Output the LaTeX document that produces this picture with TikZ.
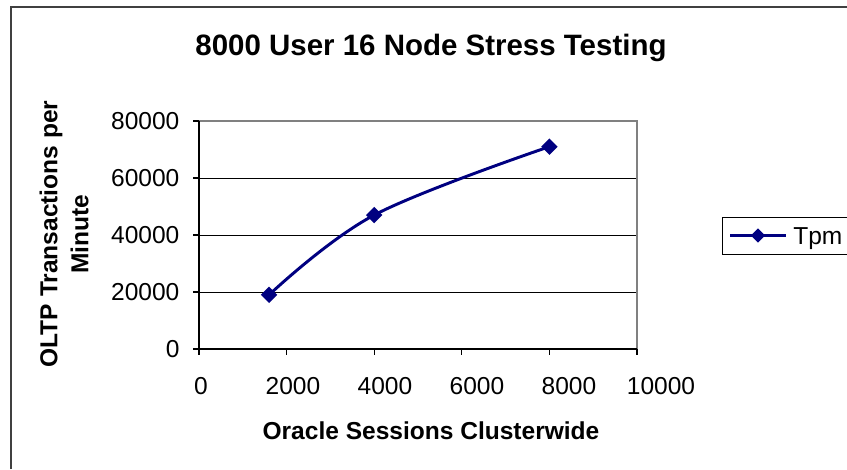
\documentclass[tikz,border=0pt]{standalone}
\usepackage{fontspec}
\setmainfont{Liberation Sans}
\usetikzlibrary{shapes.geometric}
\definecolor{tpmblue}{RGB}{0,0,128}
\tikzset{
  lbl/.style={font=\fontsize{18.4}{22}\selectfont, inner sep=0pt},
  axtitle/.style={font=\fontsize{18.4}{23.25}\selectfont\bfseries, inner sep=0pt},
  datamark/.style={diamond, fill=tpmblue, inner sep=0pt, minimum size=12.5pt},
  gridline/.style={black, line width=0.6pt}
}

\begin{document}
\begin{tikzpicture}[x=0.75pt,y=-0.75pt]
\useasboundingbox (0,0) rectangle (847,469);
\draw [line width=1.5pt,black!75] (10.5,469) -- (10.5,6.5) -- (847,6.5);
\node [inner sep=0pt,anchor=base,font=\fontsize{22.1}{26}\selectfont\bfseries] (title) at (431,55) {8000 User 16 Node Stress Testing};

\begin{scope}[shift={(199,349)},x=32.85pt,y=21.375pt]
\coordinate (p1) at (1.6,1.9);
\coordinate (p2) at (4,4.7);
\coordinate (p3) at (8,7.1);
\foreach \y in {2,4,6} \draw [gridline] (0,\y) -- (10,\y);
\draw [line width=1.5pt,gray] (0,8) -- (10,8) -- (10,0);
\draw [line width=1.1pt] (0,8) -- (0,0) -- (10,0);
\foreach \x/\t in {0/0,2/2000,4/4000,6/6000,8/8000,10/10000} {
  \draw [line width=0.8pt] (\x,0) -- ++(0pt,-4.5pt);
  \node [lbl] (xl\x) at (\x,0) [xshift={(1.5+1.65*\x)*1pt},yshift=-27.75pt] {\t};
}
\foreach \y/\t in {0/0,2/20000,4/40000,6/60000,8/80000} {
  \draw [line width=0.8pt] (0,\y) -- ++(-4.5pt,0pt);
  \node [lbl,anchor=east] (yl\y) at (0,\y) [xshift=-14.5pt] {\t};
}
\draw [tpmblue,line width=2.2pt] plot [smooth,tension=0.6] coordinates {(p1) (p2) (p3)};
\node [datamark] (m1) at (p1) {};
\node [datamark] (m2) at (p2) {};
\node [datamark] (m3) at (p3) {};
\end{scope}

\node [axtitle] (xtitle) at (431,431) {Oracle Sessions Clusterwide};
\node [axtitle,rotate=90,align=center] (ytitle) at (64,234) {OLTP Transactions per\\Minute};

\node [draw,line width=1pt,anchor=north west,minimum width=111pt,minimum height=27.75pt] (legend) at (722,217) {};
\coordinate (la) at (730,235.5);
\coordinate (lb) at (786,235.5);
\draw [tpmblue,line width=2pt] (la) -- (lb);
\node [datamark,minimum size=11pt] (lm) at (758,235.5) {};
\node [lbl,anchor=base west] (ltext) at (793,244) {Tpm};
\end{tikzpicture}
\end{document}
